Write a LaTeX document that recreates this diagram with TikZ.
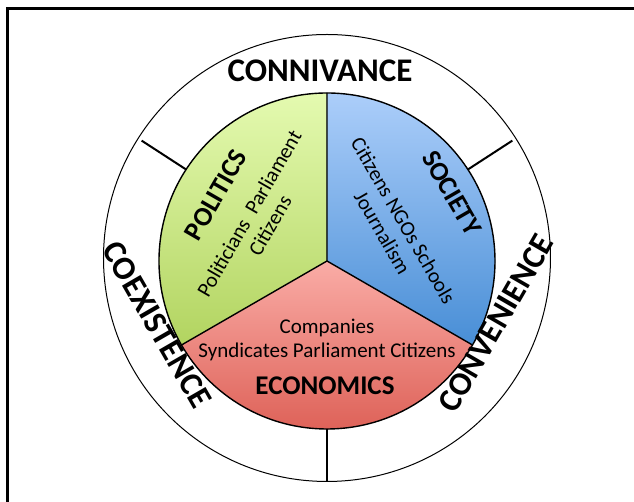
\documentclass[tikz,border=0pt]{standalone}
\usepackage{fontspec}
\setmainfont{Carlito}

\definecolor{polTop}{RGB}{228,250,176}
\definecolor{polBot}{RGB}{178,212,96}
\definecolor{socTop}{RGB}{172,206,250}
\definecolor{socBot}{RGB}{72,142,214}
\definecolor{ecoTop}{RGB}{250,172,166}
\definecolor{ecoBot}{RGB}{218,88,78}

\begin{document}
\begin{tikzpicture}[x=0.5pt, y=0.5pt,
    ringlabel/.style={font=\fontsize{16.5}{20}\selectfont\bfseries},
    sectortitle/.style={font=\fontsize{13.5}{16}\selectfont\bfseries},
    sectortext/.style={font=\fontsize{10.5}{12}\selectfont, align=center},
    spoke/.style={line width=1pt}]
            \useasboundingbox (-327,-241) rectangle (307,261);
            % Frame round the figure
            \draw[line width=1.1pt] (-319.5,-241) -- (-319.5,252.5) -- (307,252.5);
            
            % Outer ring
            \draw[line width=0.5pt] (0,3) circle[radius=223.5];
            
            % Three sectors of the pie
            \fill[top color=polTop, bottom color=polBot] (0,0) -- (90:168) arc[start angle=90, end angle=210, radius=168] -- cycle;
            \fill[top color=socTop, bottom color=socBot] (0,0) -- (-30:168) arc[start angle=-30, end angle=90, radius=168] -- cycle;
            \fill[top color=ecoTop, bottom color=ecoBot] (0,0) -- (210:168) arc[start angle=210, end angle=330, radius=168] -- cycle;
            \draw[line width=0.7pt] (0,0) circle[radius=168];
            \draw[line width=0.7pt] (0,0) -- (90:168) (0,0) -- (210:168) (0,0) -- (330:168);
            
            % Spokes dividing the ring
            \foreach \a in {33,147,270}
                \draw[spoke] (\a:168) -- (\a:221);
            
            \node[ringlabel] (connivance) at (-7,190) {CONNIVANCE};
            \node[ringlabel, rotate=-60] (coexistence) at (-170,-64) {COEXISTENCE};
            \node[ringlabel, rotate=60] (convenience) at (169,-62) {CONVENIENCE};
            
            \node[sectortitle, rotate=60] (politics) at (-111,66) {POLITICS};
            \node[sectortext, rotate=60] (politicsText) at (-67.5,41.5) {Politicians\ \ Parliament\\Citizens};
            
            \node[sectortitle, rotate=-60] (society) at (125,68) {SOCIETY};
            \node[sectortext, rotate=-60] (societyText) at (66,34.5) {Citizens NGOs Schools\\Journalism};
            
            \node[sectortext] (economicsText) at (0,-79) {Companies\\Syndicates Parliament Citizens};
            \node[sectortitle] (economics) at (-2,-125) {ECONOMICS};
        \end{tikzpicture}
\end{document}
